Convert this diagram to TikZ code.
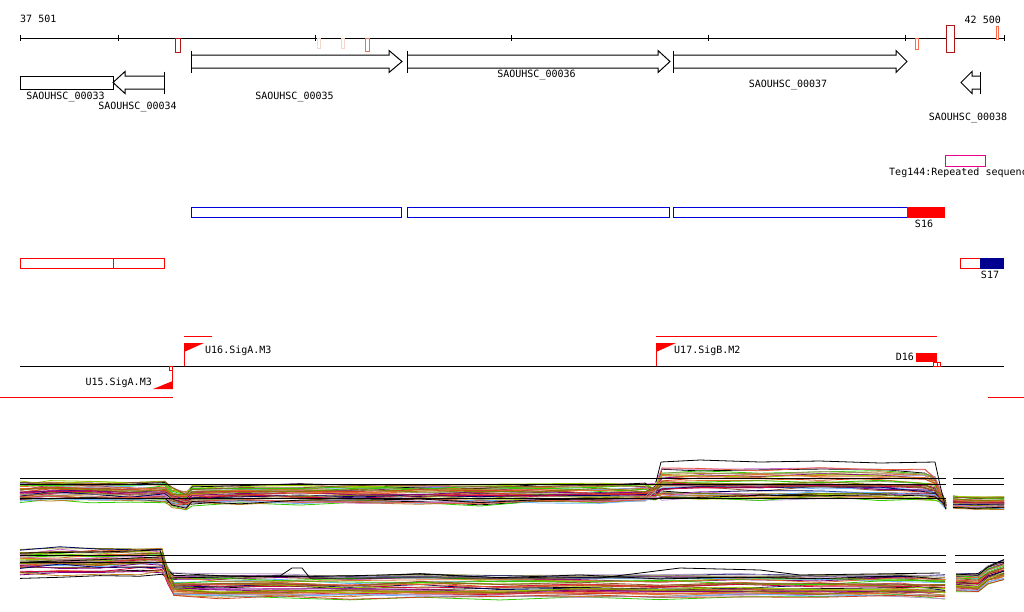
\documentclass[tikz,border=0pt]{standalone}
\usepackage{fontspec}
\setmonofont{DejaVu Sans Mono}
\usepackage{tikz}
\usetikzlibrary{calc}
\definecolor{darkred}{HTML}{B01818}
\definecolor{salmon}{HTML}{FF6A4A}
\definecolor{palered}{HTML}{F6D6CA}
\definecolor{segnavy}{HTML}{000090}
\definecolor{segblue}{HTML}{0000DD}
\definecolor{p0}{HTML}{000000}
\definecolor{p1}{HTML}{800080}
\definecolor{p2}{HTML}{33CC00}
\definecolor{p3}{HTML}{99CC00}
\definecolor{p4}{HTML}{E07030}
\definecolor{p5}{HTML}{D04020}
\definecolor{p6}{HTML}{808000}
\definecolor{p7}{HTML}{8B5A2B}
\definecolor{p8}{HTML}{66B3FF}
\definecolor{p9}{HTML}{CC66CC}
\definecolor{p10}{HTML}{000066}
\definecolor{p11}{HTML}{CC0044}
\definecolor{p12}{HTML}{C08020}
\definecolor{p13}{HTML}{B399CC}
\definecolor{p14}{HTML}{E05A3A}
\definecolor{p15}{HTML}{999966}
\tikzset{
  lbl/.style={font=\fontsize{10}{12}\selectfont\ttfamily, inner sep=0pt},
  gene/.style={draw=black, line width=1pt, fill=white},
  mark box/.style={draw=#1, line width=1pt, fill=white},
  prof/.style={line width=0.8pt, line join=round},
  refline/.style={black, line width=1pt},
  tfbs/.style={red, line width=1pt},
}
\newcommand{\geneR}[4]{\draw[gene] (#1,#4-6.5) -- (#2,#4-6.5) -- (#2,#4-11) -- (#3,#4) -- (#2,#4+11) -- (#2,#4+6.5) -- (#1,#4+6.5);
  \draw[gene] (#1,#4-11) -- (#1,#4+11);}
\newcommand{\geneL}[4]{\draw[gene] (#3,#4-6.5) -- (#2,#4-6.5) -- (#2,#4-11) -- (#1,#4) -- (#2,#4+11) -- (#2,#4+6.5) -- (#3,#4+6.5);
  \draw[gene] (#3,#4-11) -- (#3,#4+11);}

\begin{document}
\begin{tikzpicture}[x=1pt,y=-1pt]
\useasboundingbox (0,0) rectangle (1024,611);
\clip (0,0) rectangle (1024,611);
\fill[white] (0,0) rectangle (1024,611);
% ruler
\draw[refline] (20,38) -- (1004,38);
\foreach \t in {20,118,315,511,708,905,1004} \draw[refline] (\t,35) -- (\t,41);
\node[lbl, anchor=west] (startpos) at (20,19) {37 501};
\node[lbl, anchor=east] (endpos) at (1001,20) {42 500};
\draw[mark box=darkred] (175,38) rectangle (180,52);
\draw[mark box=darkred] (946,25) rectangle (954,52);
\draw[mark box=palered] (317,38) rectangle (320,48);
\draw[mark box=palered] (341,38) rectangle (344,48);
\draw[mark box=salmon] (365,38) rectangle (369,51);
\draw[mark box=salmon] (915,38) rectangle (918.5,49.5);
\draw[mark box=salmon] (996,26) rectangle (998.5,39);
% genes
\draw[gene] (20,76) rectangle (113,89);
\geneL{113}{125}{164}{82.5}
\geneR{191}{389}{402}{61.5}
\geneR{407}{658}{670}{61.5}
\geneR{673}{896}{907}{61.5}
\geneL{961}{972}{980}{82.5}
\node[lbl] (g33) at (65.5,97) {SAOUHSC\_00033};
\node[lbl] (g34) at (137.5,107) {SAOUHSC\_00034};
\node[lbl] (g35) at (294.5,97) {SAOUHSC\_00035};
\node[lbl] (g36) at (536.5,75) {SAOUHSC\_00036};
\node[lbl] (g37) at (788,85) {SAOUHSC\_00037};
\node[lbl] (g38) at (968,118) {SAOUHSC\_00038};
% repeats
\draw[mark box=magenta] (945,155) rectangle (985,166);
\node[lbl, anchor=west] (teg) at (889,172.5) {Teg144:Repeated sequence};
% segments
\draw[mark box=segblue] (191,207) rectangle (401,217);
\draw[mark box=segblue] (407,207) rectangle (669,217);
\draw[mark box=segblue] (673,207) rectangle (907,217);
\fill[red] (907,206.5) rectangle (945,217.5);
\node[lbl] (s16) at (924,224) {S16};
\draw[mark box=red] (20,258) rectangle (113,268);
\draw[mark box=red] (113,258) rectangle (164,268);
\draw[mark box=red] (960,258) rectangle (980,268);
\fill[segnavy] (980,257.5) rectangle (1004,268.5);
\node[lbl] (s17) at (990,275) {S17};
% promoters
\draw[refline] (20,366) -- (1004,366);
\draw[tfbs] (184,336) -- (212,336);
\draw[tfbs] (656,336) -- (937,336);
\draw[tfbs] (0,397) -- (173,397);
\draw[tfbs] (988,397) -- (1024,397);
\draw[tfbs] (184,366) -- (184,343);
\fill[red] (184,343) -- (204,343) -- (184,352) -- cycle;
\node[lbl, anchor=west] (u16) at (205,350.5) {U16.SigA.M3};
\draw[tfbs] (172.7,366) -- (172.7,389);
\draw[tfbs, line width=0.8pt] (169,366) rectangle (172.7,370);
\fill[red] (172.7,381) -- (172.7,389) -- (153,389) -- cycle;
\node[lbl, anchor=east] (u15) at (152,383) {U15.SigA.M3};
\draw[tfbs] (656,366) -- (656,343);
\fill[red] (656,343) -- (676,343) -- (656,352) -- cycle;
\node[lbl, anchor=west] (u17) at (674,350.5) {U17.SigB.M2};
\fill[red] (916,353) rectangle (937,362);
\node[lbl, anchor=east] (d16) at (914,357) {D16};
\draw[tfbs, line width=0.8pt] (933,362.5) rectangle (937,366) (937,362.5) rectangle (940.7,366);
% expression profiles
\pgfmathsetseed{17}
\foreach \k in {0,...,39}{
  \pgfmathsetmacro\ra{rand}
  \pgfmathsetmacro\rb{rand}
  \pgfmathtruncatemacro\ci{mod(\k,16)}
  \draw[prof, color=p\ci] (20,{492+9*\ra+2.5*rand})
    \foreach \x/\b/\s/\t in {50/491/9/0,90/492/9/0,130/493/9/0,165/492/9/0,172/497/9/0,186/500/8/0,192/496/9/0,240/495/9/0,300/494/9/0,360/495/9/0,420/494/9/0,480/495/9/0,540/494/9/0,600/494/9/0,645/493/9/0,655/490/4/6,662/482/0/17,700/481/0/17,760/482/0/17,820/481/0/17,880/482/0/17,925/483/0/17,935/487/0/12,943/500/3/3,946/505/3/0}
    { -- (\x,{\b+\s*\ra+\t*\rb+2.5*rand}) };
  \draw[prof, color=p\ci] (953,{502+6*\ra+rand}) -- (975,{503+6*\ra+rand}) -- (1004,{503+6*\ra+rand});
  \pgfmathsetmacro\ra{rand}
  \pgfmathsetmacro\rb{rand}
  \draw[prof, color=p\ci] (20,{564+15*\ra+2.5*rand})
    \foreach \x/\b/\s/\t in {60/563/15/0,100/564/15/0,140/562/15/0,162/562/15/0,168/576/6/6,174/586/0/11,220/587/0/11,280/586/0/11,350/587/0/11,420/586/0/11,500/587/0/11,580/586/0/11,660/587/0/11,740/586/0/11,820/587/0/11,900/586/0/11,945/588/0/11}
    { -- (\x,{\b+\s*\ra+\t*\rb+2.5*rand}) };
  \draw[prof, color=p\ci] (956,{582+9*\rb+rand}) -- (978,{583+9*\rb+rand}) -- (988,{575+9*\rb+rand}) -- (1004,{570+10*\rb+rand});
}
\draw[prof, black] (656,482) -- (661,462) -- (700,460) -- (760,462) -- (820,461) -- (880,463) -- (935,462) -- (940,485) -- (945,505);
\draw[prof, black] (20,553) -- (100,552) -- (160,550) -- (168,578) -- (280,576) -- (292,568) -- (302,568) -- (310,578) -- (600,578) -- (680,568) -- (760,570) -- (800,575) -- (940,573);
% reference lines
\foreach \y in {478,484,498} \draw[refline] (20,\y) -- (946,\y);
\foreach \y in {478,484} \draw[refline] (953,\y) -- (1004,\y);
\foreach \y in {555,562} \draw[refline] (20,\y) -- (946,\y) (955,\y) -- (1004,\y);
\end{tikzpicture}
\end{document}
